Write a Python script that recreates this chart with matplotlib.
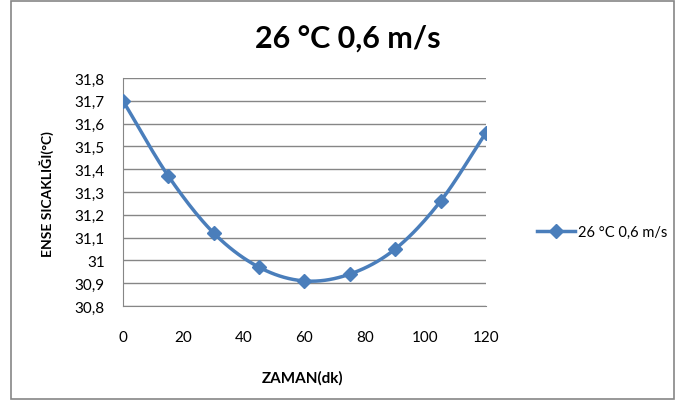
import matplotlib
matplotlib.use('Agg')
import matplotlib.pyplot as plt
from matplotlib.lines import Line2D
from matplotlib.patches import Rectangle
import numpy as np

# data
zaman = [0, 15, 30, 45, 60, 75, 90, 105, 120]
sicaklik = [31.70, 31.37, 31.12, 30.97, 30.91, 30.94, 31.05, 31.26, 31.56]
seri_adi = '26 °C 0,6 m/s'
baslik = '26 °C 0,6 m/s'

plt.rcParams['font.family'] = ['Lato', 'DejaVu Sans']
renk = '#4a7ebb'


def smooth(x, y, n=20):
    # Catmull-Rom curve through the points, like Excel's smoothed line
    x = np.asarray(x, float)
    y = np.asarray(y, float)
    px = np.concatenate([[2 * x[0] - x[1]], x, [2 * x[-1] - x[-2]]])
    py = np.concatenate([[2 * y[0] - y[1]], y, [2 * y[-1] - y[-2]]])
    xs, ys = [], []
    t = np.linspace(0, 1, n, endpoint=False)
    for i in range(1, len(px) - 2):
        for p, out in ((px, xs), (py, ys)):
            p0, p1, p2, p3 = p[i - 1], p[i], p[i + 1], p[i + 2]
            out.extend(0.5 * (2 * p1 + (-p0 + p2) * t
                              + (2 * p0 - 5 * p1 + 4 * p2 - p3) * t ** 2
                              + (-p0 + 3 * p1 - 3 * p2 + p3) * t ** 3))
    xs.append(x[-1])
    ys.append(y[-1])
    return xs, ys


f = plt.figure(figsize=(6.81, 4.10), dpi=100)
f.patches.append(Rectangle((0.016, 0.025), 0.974, 0.97, transform=f.transFigure,
                           fill=False, edgecolor='#868686', lw=1.2))
ax = f.add_axes([0.1806, 0.2512, 0.533, 0.556])

sx, sy = smooth(zaman, sicaklik)
ax.plot(sx, sy, color=renk, lw=2.5, zorder=3)
ax.plot(zaman, sicaklik, ls='none', marker='D', color=renk, markersize=7, zorder=4)

ax.set_xlim(0, 120)
ax.set_ylim(30.8, 31.8)
ax.set_xticks(range(0, 121, 20))
yt = np.arange(30.8, 31.81, 0.1)
ax.set_yticks(yt)
ax.set_yticklabels([('%.1f' % v).replace('.', ',').replace(',0', '') for v in yt])
ax.grid(axis='y', color='#868686', lw=1)
ax.set_axisbelow(True)
for s in ['top', 'right']:
    ax.spines[s].set_visible(False)
for s in ['left', 'bottom']:
    ax.spines[s].set_color('#868686')
ax.tick_params(axis='y', length=0, labelsize=11, pad=13)
ax.tick_params(axis='x', length=0, labelsize=11, pad=17)

ax.set_xlabel('ZAMAN(dk)', fontsize=11, fontweight='bold', va='center')
ax.xaxis.set_label_coords(0.496, -0.311)
ax.set_ylabel('ENSE SICAKLIĞI(°C)', fontsize=10, fontweight='bold', va='center')
ax.yaxis.set_label_coords(-0.209, 0.496)
f.text(0.511, 0.905, baslik, ha='center', va='center', fontsize=22, fontweight='bold')

h = Line2D([], [], color=renk, lw=2.5, marker='D', markersize=7)
f.legend([h], [seri_adi], loc='center left', bbox_to_anchor=(0.77, 0.432),
         frameon=False, fontsize=10.5, handlelength=2.6, handletextpad=0.2)

f.savefig('out.png', dpi=100)
